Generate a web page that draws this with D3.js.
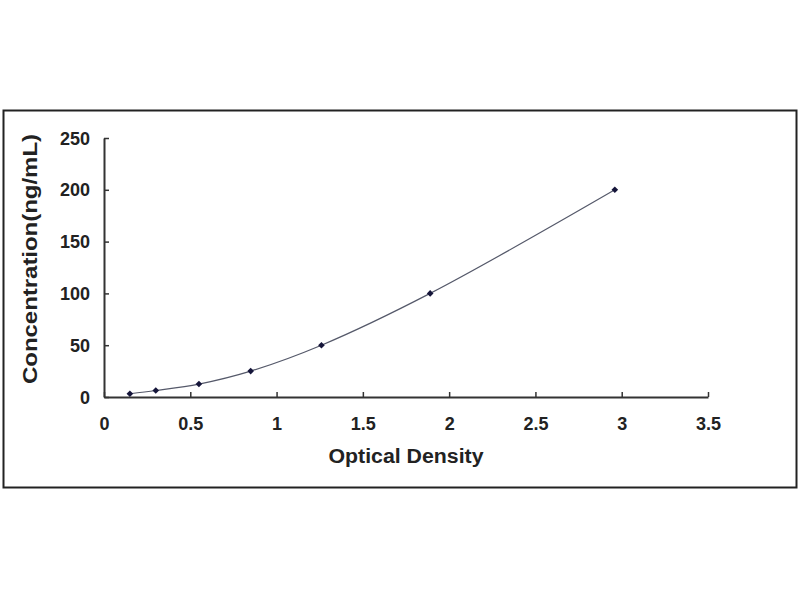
<!DOCTYPE html>
<html>
<head>
<meta charset="utf-8">
<script src="https://cdn.jsdelivr.net/npm/d3@7"></script>
<style>
  html, body { margin: 0; padding: 0; background: #fff; }
  svg { display: block; }
  text { font-family: "Liberation Sans", Arial, sans-serif; font-weight: bold; fill: #222; }
</style>
</head>
<body>
<div id="chart"></div>
<script>
// standard curve values
var opticalDensity = [0.15, 0.30, 0.55, 0.85, 1.26, 1.89, 2.96];
var concentration = [3.12, 6.25, 12.5, 25, 50, 100, 200];
var xTicks = [0, 0.5, 1, 1.5, 2, 2.5, 3, 3.5];
var yTicks = [0, 50, 100, 150, 200, 250];

var width = 800, height = 600;

var svg = d3.select("#chart")
  .append("svg")
  .attr("width", width)
  .attr("height", height);

// outer frame
svg.append("rect")
  .attr("x", 3.5)
  .attr("y", 110.5)
  .attr("width", 793)
  .attr("height", 377)
  .attr("fill", "#fff")
  .attr("stroke", "#222")
  .attr("stroke-width", 2);

var x = d3.scaleLinear().domain([0, 3.5]).range([104, 708]);
var y = d3.scaleLinear().domain([0, 250]).range([397, 138]);

// x axis, ticks pointing inwards
var xAxis = svg.append("g")
  .attr("transform", "translate(0," + y(0) + ")")
  .call(d3.axisBottom(x).tickValues(xTicks).tickSize(-5).tickSizeOuter(0)
    .tickFormat(function (d) { return d; }).tickPadding(20));

// y axis
var yAxis = svg.append("g")
  .attr("transform", "translate(" + x(0) + ",0)")
  .call(d3.axisLeft(y).tickValues(yTicks).tickSize(-5).tickSizeOuter(0).tickPadding(14));

[xAxis, yAxis].forEach(function (g) {
  g.select(".domain").attr("stroke", "#333").attr("stroke-width", 2);
  g.selectAll(".tick line").attr("stroke", "#333").attr("stroke-width", 1.5);
  g.selectAll(".tick text")
    .attr("fill", "#222")
    .style("font-size", "18px")
    .style("font-family", "\"Liberation Sans\", Arial, sans-serif")
    .style("font-weight", "bold");
});
yAxis.selectAll(".tick text").attr("dy", "0.34em");

// fitted curve
var pts = opticalDensity.map(function (d, i) { return [d, concentration[i]]; });
var line = d3.line()
  .x(function (d) { return x(d[0]); })
  .y(function (d) { return y(d[1]); })
  .curve(d3.curveCatmullRom.alpha(0.5));

svg.append("path")
  .datum(pts)
  .attr("d", line)
  .attr("fill", "none")
  .attr("stroke", "#55596a")
  .attr("stroke-width", 1.2);

// markers: square diamonds
svg.selectAll(".pt")
  .data(pts)
  .enter().append("path")
  .attr("class", "pt")
  .attr("transform", function (d) { return "translate(" + x(d[0]) + "," + y(d[1]) + ") rotate(45)"; })
  .attr("d", d3.symbol().type(d3.symbolSquare).size(22))
  .attr("fill", "#15153a");

// axis titles
svg.append("text")
  .attr("x", 406)
  .attr("y", 463)
  .attr("text-anchor", "middle")
  .attr("textLength", 155)
  .attr("lengthAdjust", "spacingAndGlyphs")
  .style("font-size", "20px")
  .text("Optical Density");

svg.append("text")
  .attr("transform", "translate(37,259) rotate(-90)")
  .attr("text-anchor", "middle")
  .attr("textLength", 250)
  .attr("lengthAdjust", "spacingAndGlyphs")
  .style("font-size", "20px")
  .text("Concentration(ng/mL)");
</script>
</body>
</html>
